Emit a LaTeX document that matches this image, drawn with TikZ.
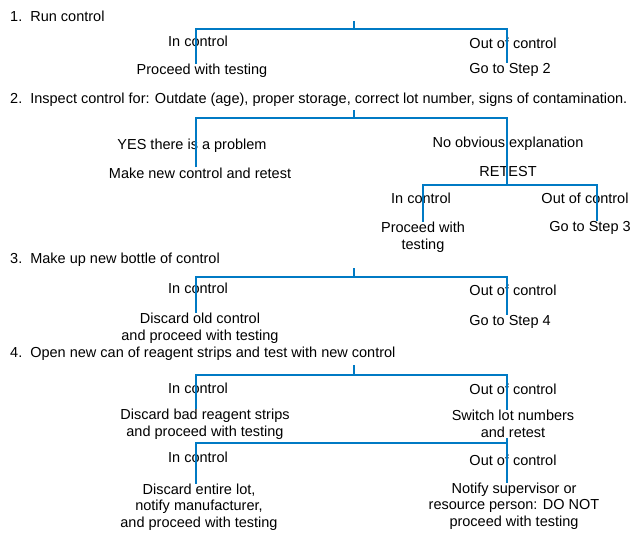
\documentclass[tikz,border=0pt]{standalone}
\usepackage{fontspec}
\setmainfont{Liberation Sans}
\definecolor{lineblue}{RGB}{0,122,196}
\begin{document}
\begin{tikzpicture}[x=1pt,y=-1pt,
  conn/.style={draw=lineblue,line width=2.2pt},
  txt/.style={inner sep=0pt,font=\fontsize{14.5}{16.5}\selectfont,align=center},
  head/.style={txt,anchor=west,align=left}]
\useasboundingbox (0,0) rectangle (631,535);
% ---------- coordinates ----------
\coordinate (s1) at (354,21);  \coordinate (b1) at (354,29);
\coordinate (L1) at (196,29);  \coordinate (R1) at (507,29);
\coordinate (s2) at (354,110); \coordinate (b2) at (354,118);
\coordinate (L2) at (196,118); \coordinate (R2) at (507,118);
\coordinate (L2b) at (423,185); \coordinate (R2b) at (597,185); \coordinate (M2b) at (507,185);
\coordinate (s3) at (354,268); \coordinate (b3) at (354,277);
\coordinate (L3) at (196,277); \coordinate (R3) at (507,277);
\coordinate (s4) at (354,365); \coordinate (b4) at (354,375);
\coordinate (L4) at (196,375); \coordinate (R4) at (507,375);
\coordinate (L5) at (196,443); \coordinate (R5) at (507,443);
% ---------- text nodes ----------
\node[head] (h1) at (10,16) {1.\ \ Run control};
\node[txt] (in1) at (198,41) {In control};
\node[txt] (proc1) at (202,71) {Proceed with testing};
\node[txt] (out1) at (513,43) {Out of control};
\node[txt] (go2) at (510,70) {Go to Step 2};

\node[head] (h2) at (10,100) {2.\ \ Inspect control for: Outdate (age), proper storage, correct lot number, signs of contamination.};
\node[txt] (yes) at (192,146) {YES there is a problem};
\node[txt] (make) at (200,173) {Make new control and retest};
\node[txt] (noobv) at (508,144) {No obvious explanation};
\node[txt] (retest) at (508,172) {RETEST};
\node[txt] (in2) at (421,198) {In control};
\node[txt] (proc2) at (423,237) {Proceed with\\testing};
\node[txt] (out2) at (585,198) {Out of control};
\node[txt] (go3) at (590,228) {Go to Step 3};

\node[head] (h3) at (10,260) {3.\ \ Make up new bottle of control};
\node[txt] (in3) at (198,288) {In control};
\node[txt] (out3) at (513,290) {Out of control};
\node[txt] (disc3) at (200,328) {Discard old control\\and proceed with testing};
\node[txt] (go4) at (510,322) {Go to Step 4};

\node[head] (h4) at (10,354) {4.\ \ Open new can of reagent strips and test with new control};
\node[txt] (in4) at (198,388) {In control};
\node[txt] (out4) at (513,389) {Out of control};
\node[txt] (disc4) at (205,424) {Discard bad reagent strips\\and proceed with testing};
\node[txt] (switch) at (513,424) {Switch lot numbers\\and retest};
\node[txt] (in5) at (198,457) {In control};
\node[txt] (out5) at (513,460) {Out of control};
\node[txt] (disc5) at (199,507) {Discard entire lot,\\notify manufacturer,\\and proceed with testing};
\node[txt] (notify) at (514,506) {Notify supervisor or\\resource person: DO NOT\\proceed with testing};
% ---------- connectors ----------
\draw[conn] (s1) -- (b1);
\draw[conn] (proc1.north -| L1) -- (L1) -- (R1) -- (go2.north -| R1);
\draw[conn] (s2) -- (b2);
\draw[conn] (make.north -| L2) -- (L2) -- (R2) -- (M2b);
\draw[conn] (proc2.north -| L2b) -- (L2b) -- (R2b) -- (go3.north -| R2b);
\draw[conn] (s3) -- (b3);
\draw[conn] (disc3.north -| L3) -- (L3) -- (R3) -- (go4.north -| R3);
\draw[conn] (s4) -- (b4);
\draw[conn] (disc4.north -| L4) -- (L4) -- (R4) -- (switch.north -| R4);
\draw[conn] (switch.south -| R5) -- (R5) -- (L5) -- (disc5.north -| L5);
\draw[conn] (R5) -- (notify.north -| R5);
\end{tikzpicture}
\end{document}
